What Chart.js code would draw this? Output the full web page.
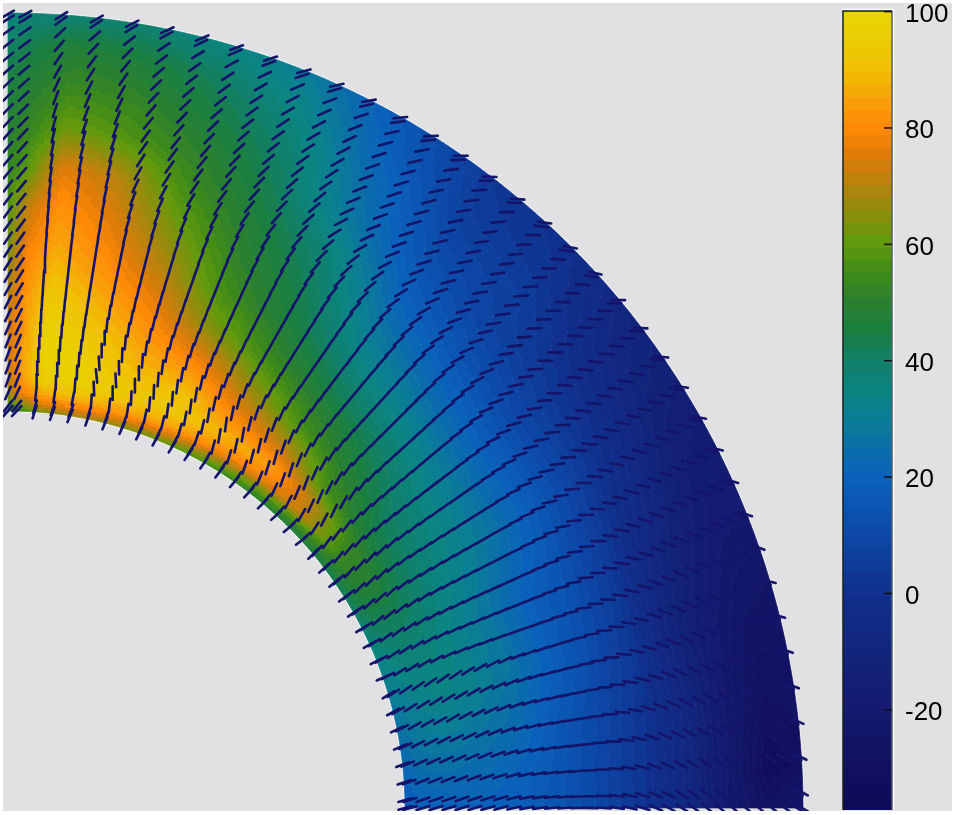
<!DOCTYPE html>
<html>
<head>
<meta charset="utf-8">
<title>Quarter annulus field</title>
<script src="https://cdn.jsdelivr.net/npm/chart.js@4"></script>
<style>
	html, body { margin: 0; padding: 0; background: #fff; }
	#wrap { position: relative; width: 955px; height: 815px; overflow: hidden; }
	#main { position: absolute; left: 3px; top: 3px; background: #e1e1e4; filter: blur(0.45px); }
	#bar { position: absolute; left: 839px; top: 0; }
</style>
</head>
<body>
<div id="wrap">
	<canvas id="main" width="949" height="808"></canvas>
	<canvas id="bar" width="113" height="815"></canvas>
</div>
<script>
// mesh nodes of the dashes, degrees and radius
const spokeAngles = [0, 1.15, 3.7, 6.28, 8.85, 11.43, 14, 16.58, 19.16, 21.73, 24.31, 26.89, 29.46, 32.04, 34.62, 37.19, 39.77, 42.35, 44.93, 47.5, 50.08, 52.66, 55.23, 57.81, 60.39, 62.96, 65.54, 68.12, 70.69, 73.27, 75.85, 78.42, 81, 83.58, 86.15, 88.75, 90];
const nodeRadii = [397, 402, 415, 428, 441, 454, 467, 480, 493, 506, 519, 532, 544, 557, 570, 583, 596, 609, 622, 635, 648, 661, 674, 686, 699, 712, 725, 738, 751, 764, 777, 789, 794];

// dash tilt against its spoke, one row per node radius, one column per sector
const tiltSectorLimits = [18, 42, 62, 80, 87, 91];
const dashTilt = [
	[15, 5, -5, -8, -14, -42], [16, 8, 0, -4, -12, -38], [18, 13, 15, 8, -2, -24], [18, 13, 20, 14, 5, -20], [18, 12, 22, 17, 7, -20],
	[18, 10, 18, 15, 6, -21], [17, 8, 14, 12, 4, -22], [16, 6, 10, 9, 3, -24], [14, 5, 6, 6, 2, -25], [12, 4, 4, 4, 1, -27],
	[10, 3, 2, 3, 1, -29], [8, 2, 1, 2, 0, -30], [6, 1, 0, 1, 0, -32], [4, 0, -1, 0, 0, -33], [2, -2, -2, -1, -1, -34],
	[-1, -5, -3, -3, -2, -35], [-4, -8, -5, -5, -2, -36], [-8, -12, -8, -7, -3, -37], [-13, -17, -12, -10, -4, -38], [-18, -21, -16, -14, -5, -39],
	[-24, -25, -21, -18, -6, -40], [-29, -29, -28, -21, -8, -41], [-33, -33, -33, -23, -10, -42], [-37, -37, -36, -25, -12, -43], [-40, -40, -38, -28, -14, -44],
	[-41, -41, -39, -30, -17, -45], [-41, -42, -40, -33, -21, -47], [-41, -42, -41, -35, -26, -49], [-40, -42, -43, -38, -31, -50], [-39, -42, -45, -41, -37, -52],
	[-36, -41, -48, -45, -43, -55], [-32, -40, -53, -50, -50, -58], [-30, -40, -55, -53, -54, -60],
];

// field values, one row per angle, one column per radius
const heatRadii = [397, 405, 415, 430, 450, 480, 520, 560, 600, 640, 680, 720, 760, 795];
const heatAngles = [0, 3, 8, 15, 22, 30, 38, 45, 52, 60, 67, 74, 80, 85, 88, 90];
const heatValues = [
	[18, 18, 19, 20, 20, 20, 18, 14, 8, 1, -8, -20, -28, -24],
	[20, 21, 23, 23, 23, 22, 19, 14, 8, 1, -8, -20, -33, -30],
	[24, 25, 27, 28, 28, 26, 22, 15, 9, 2, -7, -19, -29, -28],
	[28, 30, 31, 33, 34, 32, 27, 19, 12, 4, -9, -18, -24, -26],
	[34, 36, 37, 38, 37, 33, 27, 19, 14, 6, -5, -13, -19, -20],
	[40, 44, 46, 46, 42, 37, 32, 26, 18, 10, 1, -7, -14, -16],
	[44, 50, 55, 54, 46, 41, 35, 27, 18, 10, 4, -2, -7, -10],
	[47, 55, 72, 70, 56, 48, 40, 31, 22, 14, 8, 6, 2, 0],
	[50, 60, 76, 84, 72, 56, 45, 36, 28, 20, 14, 9, 5, 3],
	[55, 66, 80, 88, 80, 68, 54, 46, 42, 37, 28, 24, 19, 16],
	[60, 72, 85, 93, 90, 80, 64, 55, 50, 46, 42, 38, 33, 28],
	[64, 76, 86, 93, 90, 85, 78, 70, 63, 56, 51, 46, 41, 35],
	[68, 78, 88, 96, 96, 92, 86, 80, 75, 70, 58, 52, 46, 38],
	[62, 75, 86, 95, 98, 97, 92, 86, 82, 76, 62, 54, 48, 38],
	[55, 65, 78, 84, 85, 84, 82, 78, 72, 60, 53, 49, 44, 37],
	[50, 58, 66, 70, 72, 72, 68, 62, 58, 52, 49, 46, 41, 35],
];

// colour scale
const colorbarTicks = [-20, 0, 20, 40, 60, 80, 100];
const colorMin = -37.2;
const colorMax = 100.1;
const colorLevels = 64;
const colorStopValues = [-37.2, -20, 0, 10, 20, 25, 30, 35, 40, 45, 50, 55, 60, 65, 70, 75, 80, 85, 90, 100.1];
const colorStopHex = ["#0e0a55", "#141a6e", "#10308c", "#0d48a8", "#0a62bc", "#0a6fa8", "#0a7f95", "#0b8580", "#118068", "#1a7f40", "#2a8030", "#3f8a18", "#5f9a0c", "#8a8e0c", "#b5830c", "#dc7c08", "#ff8a06", "#f8a308", "#f0c005", "#e6d800"];

const hexToRgb = (hex) => [1, 3, 5].map((i) => parseInt(hex.slice(i, i + 2), 16));

const colorForLevel = (level) => {
	let v = colorMin + ((level + 0.5) / colorLevels) * (colorMax - colorMin);
	let i = 0;
	while (i < colorStopValues.length - 2 && v > colorStopValues[i + 1]) i++;
	let f = (v - colorStopValues[i]) / (colorStopValues[i + 1] - colorStopValues[i]);
	let a = hexToRgb(colorStopHex[i]);
	let b = hexToRgb(colorStopHex[i + 1]);
	return `rgb(${a.map((c, k) => Math.round(c + (b[k] - c) * f)).join(",")})`;
};

const levelForValue = (v) =>
	Math.max(0, Math.min(colorLevels - 1, Math.floor(((v - colorMin) / (colorMax - colorMin)) * colorLevels)));

const toXY = (r, deg) => ({
	x: r * Math.cos((deg * Math.PI) / 180),
	y: r * Math.sin((deg * Math.PI) / 180),
});

// dashes: one line dataset, NaN points break it into pieces
const dashHalfLength = 6.8;
let dashPoints = [];
spokeAngles.forEach((deg) => {
	let sector = tiltSectorLimits.findIndex((limit) => deg < limit);
	nodeRadii.forEach((r, idx) => {
		let c = toXY(r, deg);
		let d = toXY(dashHalfLength, deg + dashTilt[idx][sector]);
		dashPoints.push({ x: c.x - d.x, y: c.y - d.y });
		dashPoints.push({ x: c.x + d.x, y: c.y + d.y });
		dashPoints.push({ x: NaN, y: NaN });
	});
});

// field nodes as a dataset, the plugin shades between them
let heatPoints = [];
heatAngles.forEach((deg, a) => {
	heatRadii.forEach((r, b) => {
		heatPoints.push({ ...toXY(r, deg), r: r, deg: deg, v: heatValues[a][b] });
	});
});

const heatShading = {
	id: "heatShading",
	beforeDatasetsDraw(chart) {
		let { ctx, scales } = chart;
		let px = (r, deg) => {
			let p = toXY(r, deg);
			return [scales.x.getPixelForValue(p.x), scales.y.getPixelForValue(p.y)];
		};

		// light fringe round the shape, as in the picture
		let fringe = new Path2D();
		[heatRadii[0], heatRadii[heatRadii.length - 1]].forEach((r) => {
			for (let deg = 0; deg <= 90; deg++) {
				if (deg === 0) fringe.moveTo(...px(r, deg));
				else fringe.lineTo(...px(r, deg));
			}
		});
		ctx.save();
		ctx.strokeStyle = "rgba(255,255,255,0.7)";
		ctx.lineWidth = 2.6;
		ctx.stroke(fringe);
		ctx.restore();

		let paths = {};
		for (let a = 0; a < heatAngles.length - 1; a++) {
			let da = heatAngles[a + 1] - heatAngles[a];
			let na = Math.max(1, Math.round(da / 0.4));
			for (let b = 0; b < heatRadii.length - 1; b++) {
				let dr = heatRadii[b + 1] - heatRadii[b];
				let nr = Math.max(1, Math.round(dr / 3));
				for (let i = 0; i < na; i++) {
					for (let j = 0; j < nr; j++) {
						let s = (i + 0.5) / na;
						let t = (j + 0.5) / nr;
						let v =
							(1 - s) * ((1 - t) * heatValues[a][b] + t * heatValues[a][b + 1]) +
							s * ((1 - t) * heatValues[a + 1][b] + t * heatValues[a + 1][b + 1]);
						let level = levelForValue(v);
						if (!paths[level]) paths[level] = new Path2D();
						let a0 = heatAngles[a] + (da * i) / na;
						let a1 = heatAngles[a] + (da * (i + 1)) / na;
						let r0 = heatRadii[b] + (dr * j) / nr;
						let r1 = heatRadii[b] + (dr * (j + 1)) / nr;
						let p = paths[level];
						p.moveTo(...px(r0, a0));
						p.lineTo(...px(r1, a0));
						p.lineTo(...px(r1, a1));
						p.lineTo(...px(r0, a1));
						p.closePath();
					}
				}
			}
		}
		ctx.save();
		ctx.lineWidth = 0.7;
		Object.keys(paths).forEach((level) => {
			ctx.fillStyle = colorForLevel(+level);
			ctx.strokeStyle = ctx.fillStyle;
			ctx.fill(paths[level]);
			ctx.stroke(paths[level]);
		});
		ctx.restore();
	},
};

new Chart(document.getElementById("main"), {
	type: "scatter",
	data: {
		datasets: [
			{ label: "field", data: heatPoints, pointRadius: 0, showLine: false },
			{
				label: "direction",
				data: dashPoints,
				showLine: true,
				spanGaps: false,
				pointRadius: 0,
				borderColor: "#14146a",
				borderWidth: 2.6,
				borderCapStyle: "round",
				tension: 0,
				clip: false,
			},
		],
	},
	options: {
		responsive: false,
		animation: false,
		events: [],
		layout: { padding: 0 },
		plugins: { legend: { display: false }, tooltip: { enabled: false } },
		scales: {
			x: { type: "linear", display: false, min: -5, max: 944 },
			y: { type: "linear", display: false, min: -3, max: 805 },
		},
	},
	plugins: [heatShading],
});

// colorbar, one floating bar per colour level
const barFrame = {
	id: "barFrame",
	afterDatasetsDraw(chart) {
		let { ctx, chartArea: c, scales } = chart;
		ctx.save();
		ctx.strokeStyle = "#fff";
		ctx.lineWidth = 1.5;
		ctx.beginPath();
		ctx.moveTo(c.right + 1.5, c.bottom);
		ctx.lineTo(c.right + 1.5, c.top - 1.5);
		ctx.lineTo(c.left - 1, c.top - 1.5);
		ctx.stroke();
		ctx.strokeStyle = "#16201c";
		ctx.beginPath();
		ctx.moveTo(c.left, c.bottom);
		ctx.lineTo(c.left, c.top);
		ctx.lineTo(c.right, c.top);
		ctx.stroke();
		ctx.strokeStyle = "#55606a";
		ctx.beginPath();
		ctx.moveTo(c.right, c.top);
		ctx.lineTo(c.right, c.bottom);
		ctx.stroke();
		ctx.strokeStyle = "#111";
		colorbarTicks.forEach((v) => {
			let y = scales.y.getPixelForValue(v);
			ctx.beginPath();
			ctx.moveTo(c.right - 8, y);
			ctx.lineTo(c.right, y);
			ctx.stroke();
		});
		ctx.restore();
	},
};

let barDatasets = [];
for (let level = 0; level < colorLevels; level++) {
	let step = (colorMax - colorMin) / colorLevels;
	barDatasets.push({
		data: [[colorMin + level * step, colorMin + (level + 1) * step + 0.05]],
		backgroundColor: colorForLevel(level),
		borderWidth: 0,
		grouped: false,
		barPercentage: 1,
		categoryPercentage: 1,
	});
}

new Chart(document.getElementById("bar"), {
	type: "bar",
	data: { labels: ["level"], datasets: barDatasets },
	options: {
		responsive: false,
		animation: false,
		events: [],
		layout: { padding: { left: 4, top: 11, bottom: 5, right: 0 } },
		plugins: { legend: { display: false }, tooltip: { enabled: false } },
		scales: {
			x: { display: false, grid: { display: false } },
			y: {
				position: "right",
				min: colorMin,
				max: colorMax,
				afterBuildTicks: (scale) => {
					scale.ticks = colorbarTicks.map((v) => ({ value: v }));
				},
				afterFit: (scale) => {
					scale.width = 60;
					scale.paddingTop = 0;
					scale.paddingBottom = 0;
				},
				grid: { display: false, drawTicks: false },
				border: { display: false },
				ticks: {
					color: "#000",
					padding: 13,
					crossAlign: "near",
					align: "center",
					labelOffset: 3,
					font: { family: "'Liberation Sans', Arial, sans-serif", size: 26 },
					callback: (v) => String(v),
				},
			},
		},
	},
	plugins: [barFrame],
});
</script>
</body>
</html>
